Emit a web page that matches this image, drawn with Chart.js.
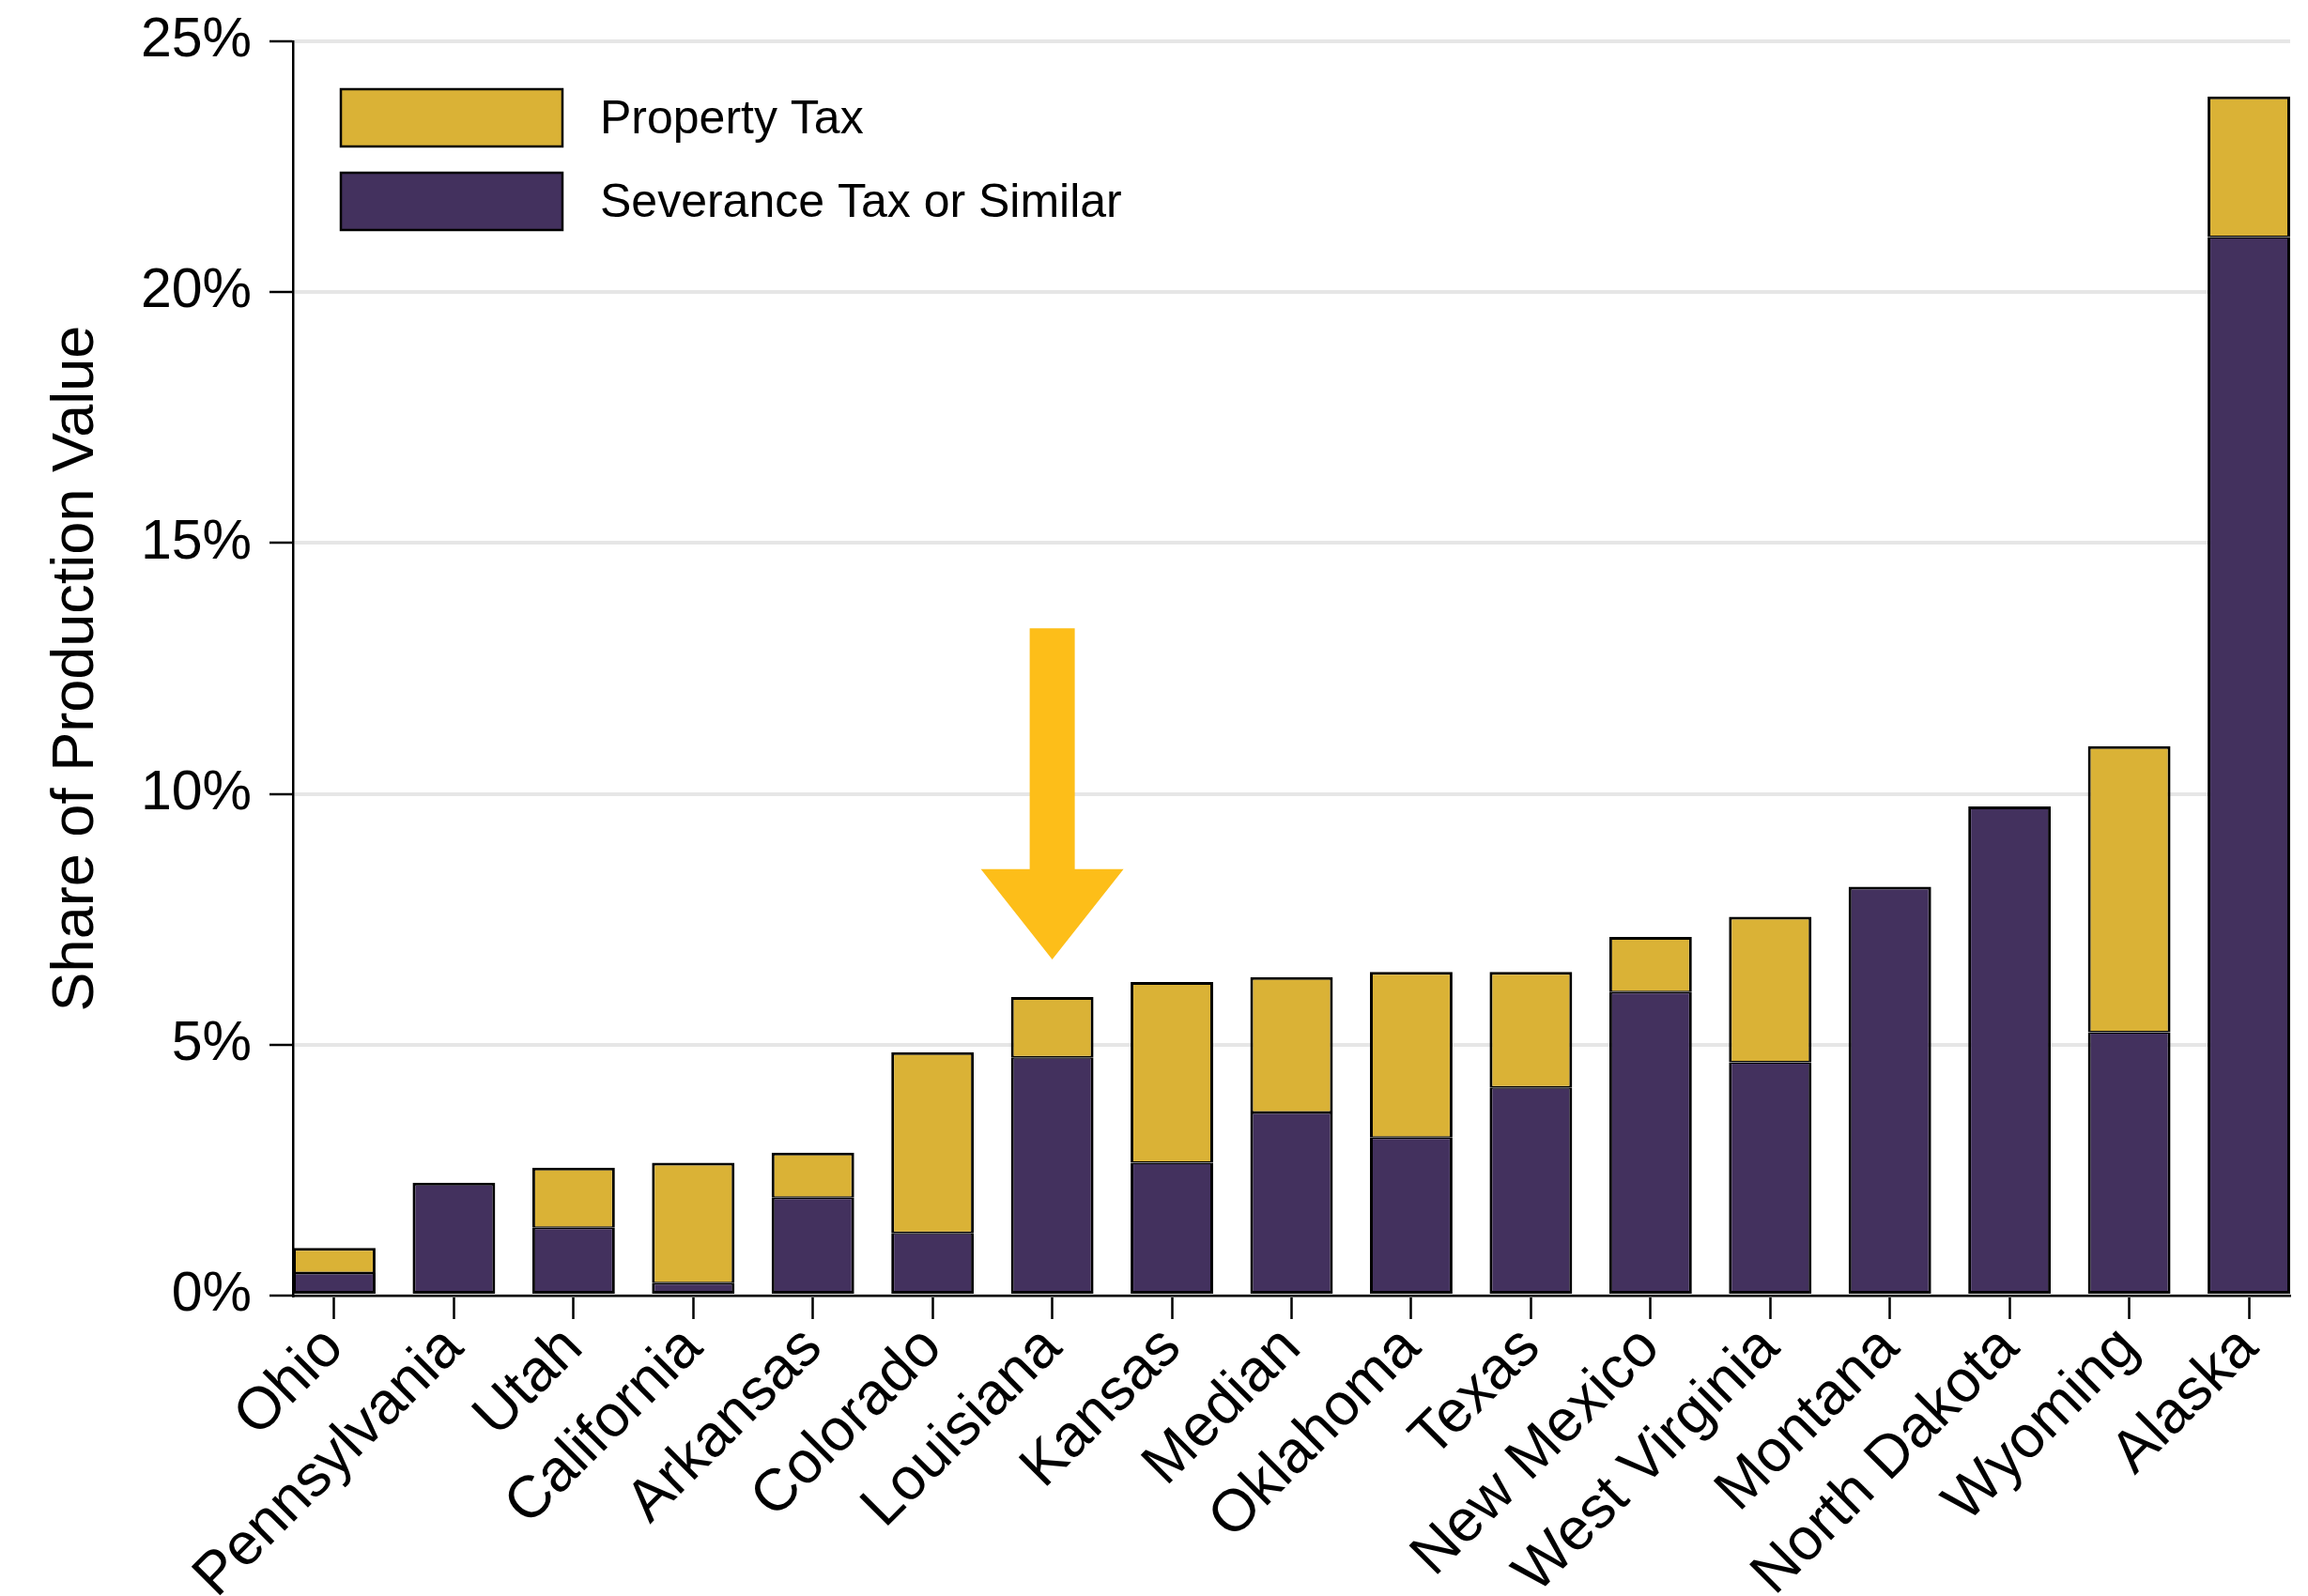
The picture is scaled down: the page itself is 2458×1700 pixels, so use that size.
<!DOCTYPE html>
<html lang="en">
<head>
    <meta charset="UTF-8">
    <title>Share of Production Value by State</title>
    <script src="https://cdn.jsdelivr.net/npm/chart.js"></script>
    <style>
        html, body { margin: 0; padding: 0; background: #fff; overflow: hidden; }
        #wrap { width: 2458px; height: 1700px; }
    </style>
</head>
<body>
    <div id="wrap">
        <canvas id="taxChart" width="2458" height="1700"></canvas>
    </div>

    <script>
        // Data (percent of production value)
        const states = ['Ohio', 'Pennsylvania', 'Utah', 'California', 'Arkansas', 'Colorado', 'Louisiana',
            'Kansas', 'Median', 'Oklahoma', 'Texas', 'New Mexico', 'West Virginia', 'Montana',
            'North Dakota', 'Wyoming', 'Alaska'];
        const severanceTax = [0.45, 2.25, 1.35, 0.25, 1.95, 1.25, 4.75, 2.65, 3.65, 3.15, 4.15, 6.05, 4.65, 8.15, 9.75, 5.25, 21.1];
        const propertyTax  = [0.5, 0, 1.2, 2.4, 0.9, 3.6, 1.2, 3.6, 2.7, 3.3, 2.3, 1.1, 2.9, 0, 0, 5.7, 2.8];
        const yTickValues = [0, 5, 10, 15, 20, 25];

        // highlight arrow over Louisiana (values in % on the y axis)
        const arrowIndex = 6;
        const arrowTop = 13.3;
        const arrowHeadBase = 8.5;
        const arrowTip = 6.7;

        const GOLD = '#dab236';
        const PURPLE = '#43315e';
        const FONT = '"Liberation Sans", Arial, Helvetica, sans-serif';

        const toPoints = arr => arr.map((v, i) => ({ x: i, y: v }));

        // legend drawn inside the plot, top-left, Property first
        const insideLegend = {
            id: 'insideLegend',
            afterDatasetsDraw(chart) {
                const { ctx, chartArea } = chart;
                const order = [1, 0];
                ctx.save();
                ctx.font = '50px ' + FONT;
                ctx.textBaseline = 'middle';
                ctx.textAlign = 'left';
                order.forEach((di, row) => {
                    const ds = chart.data.datasets[di];
                    const x = chartArea.left + 51;
                    const y = chartArea.top + 51 + row * 89;
                    ctx.fillStyle = ds.backgroundColor;
                    ctx.fillRect(x, y, 236, 61);
                    ctx.lineWidth = 2.5;
                    ctx.strokeStyle = '#000';
                    ctx.strokeRect(x, y, 236, 61);
                    ctx.fillStyle = '#000';
                    ctx.fillText(ds.label, chartArea.left + 327, y + 33);
                });
                ctx.restore();
            }
        };

        const arrowPlugin = {
            id: 'arrowPlugin',
            afterDatasetsDraw(chart) {
                const { ctx, scales } = chart;
                const cx = scales.x.getPixelForValue(arrowIndex);
                const yTop = scales.y.getPixelForValue(arrowTop);
                const yBase = scales.y.getPixelForValue(arrowHeadBase);
                const yTip = scales.y.getPixelForValue(arrowTip);
                ctx.save();
                ctx.fillStyle = '#fdbe19';
                ctx.beginPath();
                ctx.moveTo(cx - 24, yTop);
                ctx.lineTo(cx + 24, yTop);
                ctx.lineTo(cx + 24, yBase);
                ctx.lineTo(cx + 76, yBase);
                ctx.lineTo(cx, yTip);
                ctx.lineTo(cx - 76, yBase);
                ctx.lineTo(cx - 24, yBase);
                ctx.closePath();
                ctx.fill();
                ctx.restore();
            }
        };

        const ctx = document.getElementById('taxChart').getContext('2d');
        const chart = new Chart(ctx, {
            type: 'bar',
            data: {
                datasets: [{
                    label: 'Severance Tax or Similar',
                    data: toPoints(severanceTax),
                    backgroundColor: PURPLE,
                    borderColor: '#000',
                    borderWidth: c => ({ left: 3, right: 3, bottom: 3, top: propertyTax[c.dataIndex] > 0 ? 1.5 : 3 }),
                    borderSkipped: false
                }, {
                    label: 'Property Tax',
                    data: toPoints(propertyTax),
                    backgroundColor: GOLD,
                    borderColor: '#000',
                    borderWidth: { left: 3, right: 3, top: 3, bottom: 1.5 },
                    borderSkipped: false
                }]
            },
            options: {
                responsive: false,
                animation: false,
                devicePixelRatio: 1,
                categoryPercentage: 1,
                barPercentage: 0.69,
                layout: { padding: { top: 44, right: 19, left: 0, bottom: 0 } },
                plugins: {
                    legend: { display: false },
                    tooltip: { enabled: false }
                },
                scales: {
                    x: {
                        type: 'linear',
                        stacked: true,
                        offset: false,
                        min: -0.345,
                        max: states.length - 1 + 0.345,
                        afterFit: s => { s.height = 320; s.paddingLeft = 0; s.paddingRight = 0; },
                        border: { display: true, color: '#000', width: 2.5 },
                        grid: {
                            offset: false,
                            drawOnChartArea: false,
                            drawTicks: true,
                            tickLength: 25,
                            tickColor: '#000',
                            tickWidth: 2.5
                        },
                        ticks: {
                            stepSize: 1,
                            includeBounds: false,
                            autoSkip: false,
                            maxRotation: 45,
                            minRotation: 45,
                            padding: -6,
                            color: '#000',
                            font: { family: FONT, size: 63 },
                            callback: v => states[v]
                        }
                    },
                    y: {
                        stacked: true,
                        min: 0,
                        max: 25,
                        // fixed axis width; keep the tick labels from pushing the plot top down
                        afterFit: s => { s.width = 312; s.paddingTop = 0; s.paddingBottom = 0; },
                        afterBuildTicks: s => { s.ticks = yTickValues.map(v => ({ value: v })); },
                        border: { display: true, color: '#000', width: 2.5 },
                        grid: {
                            color: '#e6e6e6',
                            lineWidth: 4,
                            tickLength: 25,
                            tickColor: '#000',
                            tickWidth: 2.5
                        },
                        ticks: {
                            padding: 19,
                            color: '#000',
                            font: { family: FONT, size: 59 },
                            callback: v => v + '%'
                        },
                        title: {
                            display: true,
                            text: 'Share of Production Value',
                            color: '#000',
                            font: { family: FONT, size: 63 },
                            padding: { top: 44, bottom: 0 }
                        }
                    }
                }
            },
            plugins: [arrowPlugin, insideLegend]
        });
    </script>
</body>
</html>
